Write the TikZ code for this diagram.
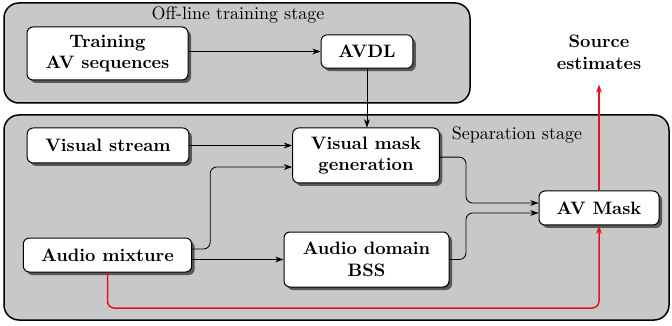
\documentclass[tikz,border=0pt]{standalone}
\usepackage{xcolor}
\usepackage{tikz}
\usetikzlibrary{arrows.meta,positioning,calc,shadows}
\definecolor{StageGray}{HTML}{C8C8C8}
\definecolor{LinkRed}{HTML}{E8141B}

\begin{document}
\begin{tikzpicture}[x=0.6pt,y=-0.6pt,
    every node/.style={font=\fontsize{10.8}{13}\selectfont},
    stage/.style={draw=black,line width=0.9pt,fill=StageGray,rounded corners=9pt},
    block/.style={rectangle,rounded corners=3.6pt,draw=black,line width=0.6pt,fill=white,align=center,font=\fontsize{10.8}{13}\selectfont\bfseries,inner sep=2pt,drop shadow={shadow xshift=1.8pt,shadow yshift=-1.8pt,fill=black!70,opacity=0.9}},
    arrow/.style={-{Stealth[length=5pt,width=3.5pt]},line width=0.5pt,draw=black},
    redarrow/.style={-{Stealth[length=5pt,width=3.5pt]},line width=0.9pt,draw=LinkRed}
]
\useasboundingbox (0,0) rectangle (672,326);
\draw[stage] (4,3) rectangle (470,103);
\draw[stage] (4,115) rectangle (669,320);
\node (offline) at (238,15) {Off-line training stage};
\node (sepstage) at (517,135) {Separation stage};
\node[block,minimum width=96.6pt,minimum height=31.8pt] (train) at (107.5,53.5) {Training\\AV sequences};
\node[block,minimum width=55pt,minimum height=20pt] (avdl) at (367,51.5) {AVDL};
\node[block,minimum width=97pt,minimum height=21pt] (vis) at (108,145.5) {Visual stream};
\node[block,minimum width=88pt,minimum height=33pt] (vmg) at (366,155.5) {Visual mask\\generation};
\node[block,minimum width=101pt,minimum height=20.4pt] (mix) at (107.5,255) {Audio mixture};
\node[block,minimum width=99pt,minimum height=33pt] (bss) at (366.5,259.5) {Audio domain\\BSS};
\node[block,minimum width=72pt,minimum height=20.4pt] (mask) at (599,208) {AV Mask};
\node[align=center,font=\fontsize{10.8}{13}\selectfont\bfseries,inner sep=0pt] (src) at (599,52) {Source\\estimates};
\coordinate (join) at (466,208);
\coordinate (low) at (599,308);
\draw[arrow] (avdl.west -| train.east) -- (avdl.west);
\draw[arrow] (avdl.south) -- (avdl.south |- vmg.north);
\draw[arrow] (vis.east) -- (vis.east -| vmg.west);
\draw[arrow,rounded corners=4pt] ([yshift=3.6pt]mix.east) -- ++(10.8pt,0) |- ([yshift=-6.9pt]vmg.west);
\draw[arrow] (bss.west -| mix.east) -- (bss.west);
\draw[arrow,rounded corners=4pt] ([yshift=-1pt]vmg.east) -| ([yshift=3pt]join) -- ([yshift=3pt]mask.west);
\draw[arrow,rounded corners=4pt] (bss.east) -| ([yshift=-3pt]join) -- ([yshift=-3pt]mask.west);
\draw[redarrow,rounded corners=4pt] (mix.south) |- (low) -- (mask.south);
\draw[redarrow] (mask.north) -- ([yshift=-9pt]src.south);
\end{tikzpicture}
\end{document}
